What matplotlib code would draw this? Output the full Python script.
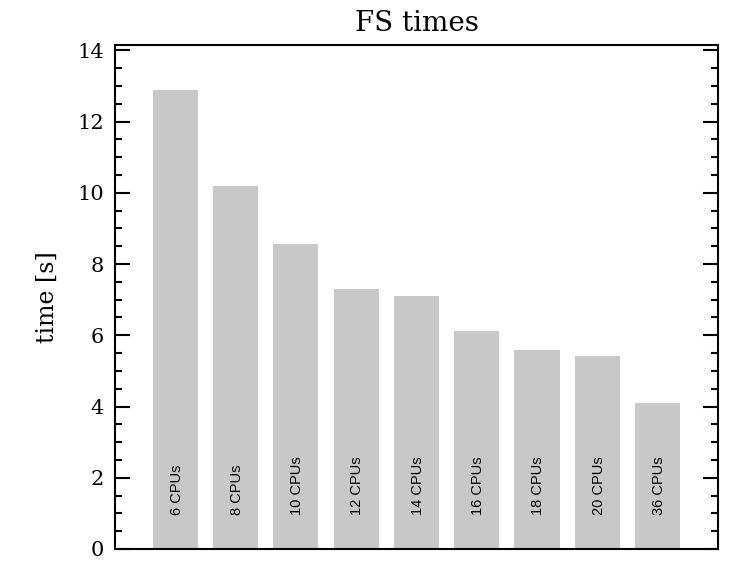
import numpy as np
import matplotlib
matplotlib.use("Agg")
import matplotlib.pyplot as plt
from matplotlib.ticker import MultipleLocator

cpus = ["6", "8", "10", "12", "14", "16", "18", "20", "36"]
times = [12.88, 10.18, 8.55, 7.30, 7.10, 6.12, 5.58, 5.42, 4.10]
bar_labels = [c + " CPUs" for c in cpus]

plt.rcParams['font.family'] = ['DejaVu Serif']

fig = plt.figure(figsize=(7.47, 5.61), dpi=100)
ax = fig.add_axes([0.154, 0.0214, 0.807, 0.8984])

x = np.arange(len(times))
ax.bar(x, times, width=0.75, color="#c8c8c8", edgecolor="none")

for xi, lab in zip(x, bar_labels):
    ax.text(xi + 0.02, 0.95, lab, rotation=90, ha="center", va="bottom",
            fontsize=10.5, family="Liberation Sans", color="black")

ax.set_xlim(-1, len(times))
ax.set_ylim(0, 14.15)
ax.set_xticks([])
ax.yaxis.set_major_locator(MultipleLocator(2))
ax.yaxis.set_minor_locator(MultipleLocator(0.5))
ax.tick_params(axis="y", which="both", direction="in", left=True, right=True,
               width=1.5, labelsize=15, pad=8)
ax.tick_params(axis="y", which="major", length=11)
ax.tick_params(axis="y", which="minor", length=5)
for s in ax.spines.values():
    s.set_linewidth(1.5)

ax.set_title("FS times", fontsize=20, pad=10)
ax.set_ylabel("time [s]", fontsize=17, labelpad=13)

fig.savefig("out.png", dpi=100)
